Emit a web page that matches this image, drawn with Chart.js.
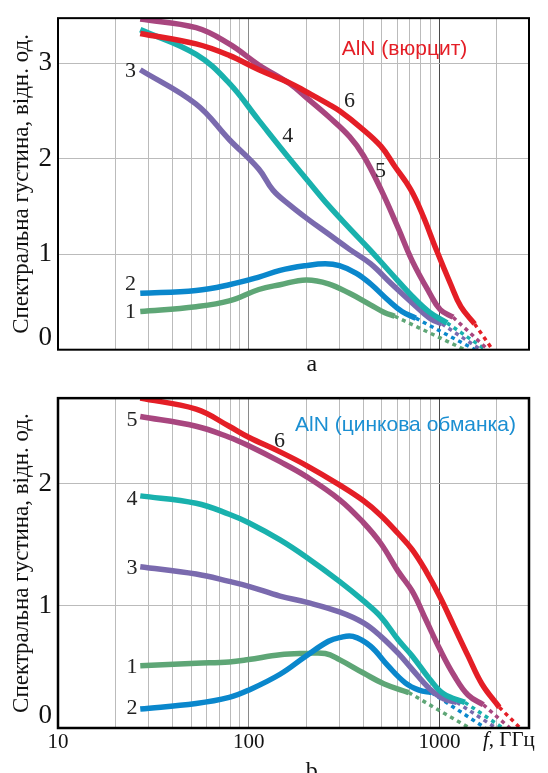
<!DOCTYPE html>
<html>
<head>
<meta charset="utf-8">
<script src="https://cdn.jsdelivr.net/npm/chart.js@4.4.1/dist/chart.umd.min.js"></script>
<style>
  html, body { margin: 0; padding: 0; background: #fff; overflow: hidden; }
  #wrap { position: relative; width: 548px; height: 773px; overflow: hidden; }
  .panel { position: absolute; left: 0; width: 548px; }
  #panelA { top: 0; height: 380px; }
  #panelB { top: 380px; height: 410px; }
</style>
</head>
<body>
<div id="wrap">
  <div class="panel" id="panelA"><canvas id="chartA" width="548" height="380"></canvas></div>
  <div class="panel" id="panelB"><canvas id="chartB" width="548" height="410"></canvas></div>
</div>
<script>
const serif = "'Liberation Serif', 'Times New Roman', serif";
const sans = "'Liberation Sans', Arial, sans-serif";

// vertical grid lines (GHz) and the ones that get a label
const gridFreqs = [10, 20, 30, 40, 50, 60, 70, 80, 90, 100, 200, 300, 400, 500, 600, 700, 800, 900, 1000, 2000];
const freqLabels = [10, 100, 1000];

// curves 1..6
const curveColors = ['#5ea676', '#0a87cc', '#7a6aae', '#19b1ad', '#a8467f', '#e41e26'];

// a) AlN (вюрцит)
const fA1 = [27, 53, 79, 113, 146, 200, 262, 338, 435, 514, 583];
const sA1 = [0.40, 0.45, 0.51, 0.63, 0.68, 0.73, 0.69, 0.59, 0.47, 0.39, 0.35];
const fA2 = [27, 53, 79, 113, 146, 200, 252, 299, 367, 435, 537, 636, 752];
const sA2 = [0.59, 0.62, 0.68, 0.76, 0.83, 0.88, 0.90, 0.88, 0.80, 0.69, 0.52, 0.40, 0.33];
const fA3 = [27, 53, 79, 113, 134, 165, 200, 262, 338, 435, 560, 720, 890, 1030];
const sA3 = [2.93, 2.57, 2.20, 1.89, 1.67, 1.51, 1.38, 1.21, 1.05, 0.90, 0.69, 0.49, 0.33, 0.27];
const fA4 = [27, 53, 79, 113, 165, 200, 262, 338, 435, 558, 720, 890, 1097];
const sA4 = [3.35, 3.09, 2.79, 2.40, 1.99, 1.79, 1.51, 1.27, 1.04, 0.80, 0.56, 0.39, 0.28];
const fA5 = [27, 53, 79, 113, 165, 200, 262, 338, 400, 493, 609, 720, 890, 1010, 1180];
const sA5 = [3.46, 3.37, 3.20, 2.98, 2.78, 2.64, 2.44, 2.23, 2.03, 1.68, 1.27, 0.93, 0.59, 0.42, 0.34];
const fA6 = [27, 53, 79, 113, 165, 200, 262, 299, 384, 493, 583, 705, 817, 966, 1143, 1296, 1530];
const sA6 = [3.31, 3.20, 3.08, 2.93, 2.79, 2.70, 2.57, 2.50, 2.33, 2.13, 1.92, 1.68, 1.41, 1.04, 0.69, 0.45, 0.27];
// where the dashed extrapolation of each curve reaches zero
const tailA = [1360, 1540, 1650, 1750, 1800, 1900];

// b) AlN (цинкова обманка)
const fB1 = [27, 53, 79, 100, 146, 200, 252, 299, 400, 514, 690];
const sB1 = [0.51, 0.53, 0.54, 0.56, 0.60, 0.61, 0.61, 0.56, 0.45, 0.36, 0.29];
const fB2 = [27, 53, 79, 100, 146, 200, 262, 299, 352, 435, 537, 662, 783, 907];
const sB2 = [0.155, 0.20, 0.25, 0.31, 0.44, 0.59, 0.71, 0.74, 0.75, 0.67, 0.51, 0.37, 0.31, 0.29];
const fB3 = [27, 53, 79, 100, 146, 200, 299, 400, 493, 609, 720, 890, 1052, 1235];
const sB3 = [1.32, 1.26, 1.20, 1.16, 1.08, 1.03, 0.95, 0.86, 0.75, 0.61, 0.48, 0.32, 0.24, 0.21];
const fB4 = [27, 53, 79, 100, 146, 200, 299, 400, 493, 609, 720, 890, 1052, 1360];
const sB4 = [1.90, 1.84, 1.75, 1.68, 1.54, 1.40, 1.20, 1.04, 0.91, 0.72, 0.59, 0.40, 0.28, 0.21];
const fB5 = [27, 53, 79, 100, 146, 200, 299, 400, 493, 609, 720, 853, 1009, 1194, 1413, 1700];
const sB5 = [2.55, 2.47, 2.38, 2.31, 2.18, 2.06, 1.87, 1.68, 1.51, 1.28, 1.12, 0.88, 0.64, 0.43, 0.27, 0.19];
const fB6 = [27, 53, 79, 100, 146, 200, 299, 400, 493, 609, 720, 853, 1009, 1194, 1413, 1671, 2060];
const sB6 = [2.70, 2.61, 2.47, 2.38, 2.26, 2.15, 1.99, 1.86, 1.74, 1.59, 1.46, 1.28, 1.07, 0.83, 0.59, 0.36, 0.17];
const tailB = [1440, 1740, 1980, 2150, 2340, 2650];

// curve numbers and captions, placed in data coordinates (GHz, density)
const labelsA = [['1', 24, 0.39], ['2', 24, 0.69], ['3', 24, 2.91], ['4', 160, 2.23], ['5', 491, 1.87], ['6', 338, 2.60]];
const labelsB = [['1', 24.4, 0.50], ['2', 24.4, 0.16], ['3', 24.4, 1.31], ['4', 24.4, 1.87], ['5', 24.4, 2.52], ['6', 145, 2.35]];
const titleA = ['AlN (вюрцит)', 656, 3.15];
const titleB = ['AlN (цинкова обманка)', 664, 2.48];
const letterA = ['a', 214, -0.16];
const letterB = ['b', 214, -0.36];

function buildDatasets(freqs, dens, tails) {
  const sets = [];
  freqs.forEach((f, i) => {
    const pts = f.map((fr, j) => ({ x: fr, y: dens[i][j] }));
    const end = pts[pts.length - 1];
    sets.push({
      data: pts,
      borderColor: curveColors[i],
      borderWidth: 5.5,
      pointRadius: 0,
      tension: 0.4,
      order: 10 - i
    });
    // dashed extrapolation down to zero
    sets.push({
      data: [end, { x: tails[i], y: 0 }],
      borderColor: curveColors[i],
      borderWidth: 3.5,
      borderDash: [4, 4],
      pointRadius: 0,
      order: 20 - i
    });
  });
  return sets;
}

// frame, curve numbers, caption and panel letter
const panelDecor = {
  id: 'panelDecor',
  afterDatasetsDraw(chart, args, opts) {
    const { ctx, chartArea: a, scales: { x, y } } = chart;
    ctx.save();
    ctx.strokeStyle = '#000';
    ctx.lineWidth = opts.frame;
    ctx.strokeRect(a.left, a.top, a.right - a.left, a.bottom - a.top);

    ctx.textAlign = 'center';
    ctx.textBaseline = 'middle';
    ctx.fillStyle = '#222';
    ctx.font = '22px ' + serif;
    opts.labels.forEach(([t, f, v]) => ctx.fillText(t, x.getPixelForValue(f), y.getPixelForValue(v)));

    ctx.font = '24px ' + serif;
    ctx.fillStyle = '#111';
    ctx.fillText(opts.letter[0], x.getPixelForValue(opts.letter[1]), y.getPixelForValue(opts.letter[2]));

    ctx.font = '21px ' + sans;
    ctx.fillStyle = opts.titleColor;
    ctx.fillText(opts.title[0], x.getPixelForValue(opts.title[1]), y.getPixelForValue(opts.title[2]));

    if (opts.unit) {
      const ux = a.right - 46, uy = a.bottom + 12;
      ctx.textAlign = 'left';
      ctx.fillStyle = '#111';
      ctx.font = 'italic 21px ' + serif;
      ctx.fillText('f', ux, uy);
      const w = ctx.measureText('f').width;
      ctx.font = '21px ' + serif;
      ctx.fillText(', ГГц', ux + w, uy);
    }
    ctx.restore();
  }
};

function makeChart(id, datasets, yMax, cfg) {
  return new Chart(document.getElementById(id), {
    type: 'line',
    data: { datasets },
    plugins: [panelDecor],
    options: {
      responsive: false,
      animation: false,
      events: [],
      layout: { padding: { top: cfg.top, right: 19, left: 0, bottom: 0 } },
      plugins: {
        legend: { display: false },
        tooltip: { enabled: false },
        panelDecor: cfg.decor
      },
      scales: {
        x: {
          type: 'logarithmic',
          min: 10,
          max: 2950,
          afterBuildTicks: s => { s.ticks = gridFreqs.map(v => ({ value: v })); },
          afterFit: s => { s.height = cfg.xHeight; },
          border: { display: false },
          grid: {
            drawTicks: false,
            lineWidth: 1,
            color: c => c.tick && c.tick.value === 1000 ? '#4a4a4a'
              : (c.tick && c.tick.value === 100 ? '#8a8a8a' : '#bbbbbb')
          },
          ticks: {
            display: cfg.showFreq,
            autoSkip: false,
            maxRotation: 0,
            padding: 2,
            color: '#111',
            font: { family: serif, size: 21, lineHeight: 1.2 },
            callback: v => freqLabels.includes(v) ? String(v) : ''
          }
        },
        y: {
          min: 0,
          max: yMax,
          afterFit: s => { s.width = 58; },
          border: { display: false },
          grid: { drawTicks: false, color: '#bbbbbb', lineWidth: 1 },
          ticks: {
            stepSize: 1,
            includeBounds: false,
            padding: 6,
            color: '#111',
            font: { family: serif, size: 27, lineHeight: 0.9 },
            callback: v => v === 0 ? ['0', ''] : String(v)
          },
          title: {
            display: true,
            text: 'Спектральна густина, відн. од.',
            color: '#111',
            font: { family: serif, size: 23, lineHeight: 1.2 },
            padding: { top: 8, bottom: 0 }
          }
        }
      }
    }
  });
}

makeChart('chartA',
  buildDatasets([fA1, fA2, fA3, fA4, fA5, fA6], [sA1, sA2, sA3, sA4, sA5, sA6], tailA),
  3.47,
  {
    top: 12, xHeight: 29, showFreq: false,
    decor: { frame: 2, labels: labelsA, title: titleA, titleColor: '#e41e26', letter: letterA, unit: false }
  });

makeChart('chartB',
  buildDatasets([fB1, fB2, fB3, fB4, fB5, fB6], [sB1, sB2, sB3, sB4, sB5, sB6], tailB),
  2.70,
  {
    top: 8, xHeight: 62, showFreq: true,
    decor: { frame: 2.5, labels: labelsB, title: titleB, titleColor: '#1b8fd2', letter: letterB, unit: true }
  });
</script>
</body>
</html>
